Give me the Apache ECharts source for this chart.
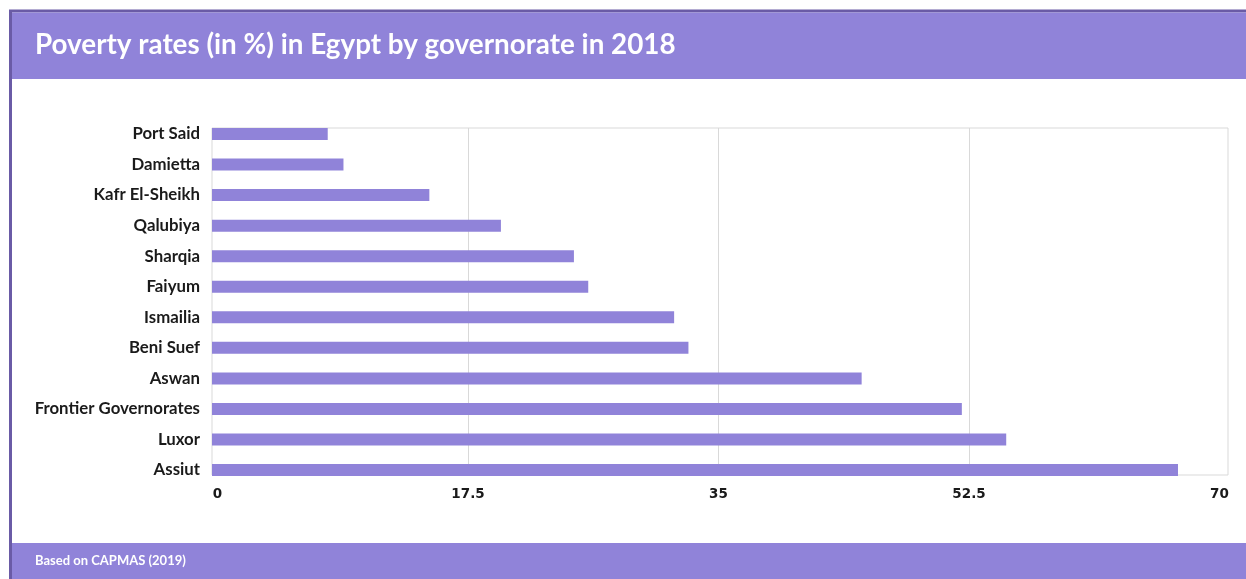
<!DOCTYPE html>
<html>
<head>
<meta charset="utf-8">
<script src="https://cdn.jsdelivr.net/npm/echarts@6/dist/echarts.min.js"></script>
<style>
html,body{margin:0;padding:0;background:#fff;}
#chart{width:1246px;height:579px;}
</style>
</head>
<body>
<div id="chart"></div>
<script>
const titleText = 'Poverty rates (in %) in Egypt by governorate in 2018';
const sourceText = 'Based on CAPMAS (2019)';
const categories = ['Port Said','Damietta','Kafr El-Sheikh','Qalubiya','Sharqia','Faiyum','Ismailia','Beni Suef','Aswan','Frontier Governorates','Luxor','Assiut'];
const values = [7.7, 8.8, 14.8, 19.8, 24.9, 25.9, 31.9, 32.9, 45.0, 52.0, 55.1, 67.1];
const axisMin = 0, axisMax = 70, axisStep = 17.5;

// plot frame geometry (px) and inner padding of the value scale
const frameLeft = 212, frameRight = 1228, padL = 5.5, padR = 8.5;
const innerW = frameRight - frameLeft - padL - padR;
const pxPerUnit = innerW / (axisMax - axisMin);
const extMin = axisMin - padL / pxPerUnit;
const extMax = axisMax + padR / pxPerUnit;

const purple = '#9083d9';
const chart = echarts.init(document.getElementById('chart'), null, {renderer:'canvas'});
chart.setOption({
  animation: false,
  backgroundColor: '#fff',
  graphic: [
    {type:'rect', shape:{x:10.5, y:11, width:1250, height:580}, style:{fill:'#fff', stroke:'#6a5ba6', lineWidth:3}, z:-10},
    {type:'rect', shape:{x:12, y:12.5, width:1240, height:66.5}, style:{fill:purple}, z:-9},
    {type:'rect', shape:{x:12, y:543, width:1240, height:40}, style:{fill:purple}, z:-9},
    {type:'text', left:35, top:31, style:{text:titleText, fill:'#fff', font:'bold 27.8px Lato, sans-serif'}},
    {type:'text', left:35, top:554, style:{text:sourceText, fill:'#fff', font:'bold 13px Lato, sans-serif'}}
  ],
  grid: [
    {left:frameLeft, width:frameRight - frameLeft, top:118.7, height:366.6},
    {left:frameLeft, width:frameRight - frameLeft, top:128, height:347, show:true, borderColor:'#d9d9d9', borderWidth:1, backgroundColor:'transparent'},
    {left:frameLeft + padL, width:innerW, top:128, height:347}
  ],
  xAxis: [
    {gridIndex:0, type:'value', min:extMin, max:extMax, startValue:extMin, show:false},
    {gridIndex:1, type:'value', show:false, splitLine:{show:false}},
    {gridIndex:2, type:'value', min:axisMin, max:axisMax, interval:axisStep,
     axisLine:{show:false}, axisTick:{show:false},
     axisLabel:{margin:12.5, color:'#1a1a1a', fontFamily:'DejaVu Sans', fontWeight:'bold', fontSize:13.5},
     splitLine:{show:true, showMinLine:false, showMaxLine:false, lineStyle:{color:'#d9d9d9', width:1}}}
  ],
  yAxis: [
    {gridIndex:0, type:'category', data:categories, inverse:true,
     axisLine:{show:false}, axisTick:{show:false}, splitLine:{show:false},
     axisLabel:{margin:12, color:'#1a1a1a', fontFamily:'Lato', fontWeight:'bold', fontSize:16.8, padding:[0,0,5,0]}},
    {gridIndex:1, type:'value', show:false, splitLine:{show:false}},
    {gridIndex:2, type:'value', show:false, splitLine:{show:false}}
  ],
  series: [
    {type:'bar', xAxisIndex:0, yAxisIndex:0, data:values, barWidth:12,
     itemStyle:{color:purple}, z:3}
  ]
});
</script>
</body>
</html>
